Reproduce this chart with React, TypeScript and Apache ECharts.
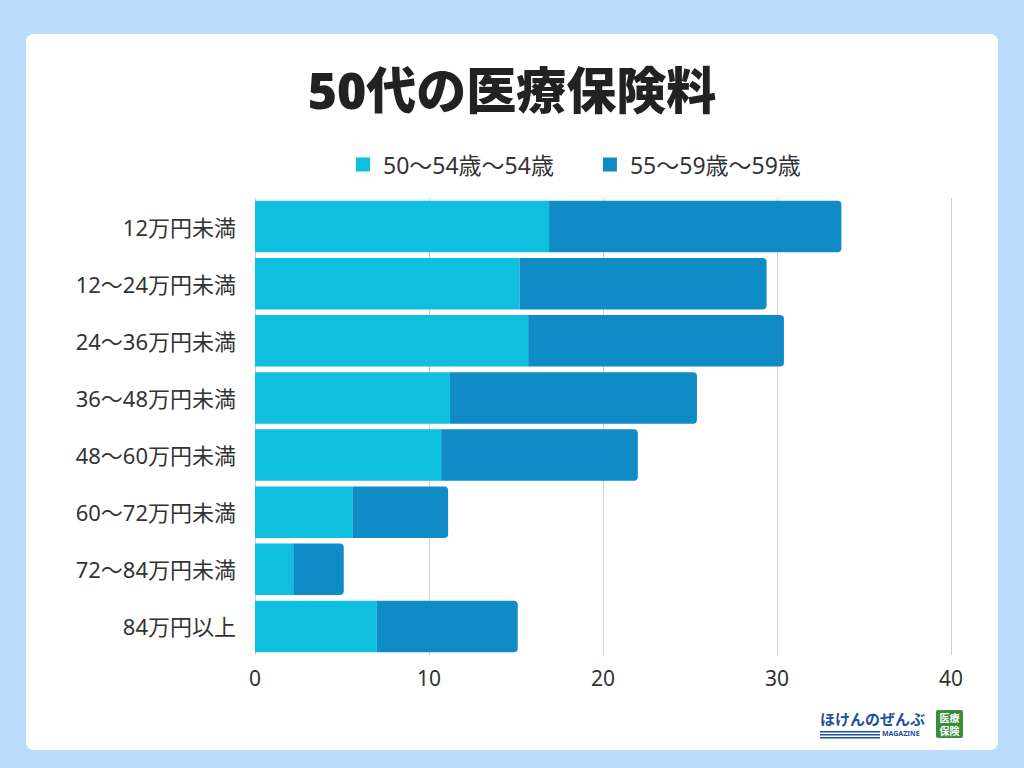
import React, { useEffect, useRef } from "react";
import * as echarts from "echarts";

const categories = [
  "12万円未満",
  "12～24万円未満",
  "24～36万円未満",
  "36～48万円未満",
  "48～60万円未満",
  "60～72万円未満",
  "72～84万円未満",
  "84万円以上",
];
const seriesNames = ["50～54歳～54歳", "55～59歳～59歳"];
const values5054 = [16.9, 15.2, 15.7, 11.2, 10.7, 5.6, 2.2, 7.0];
const values5559 = [16.8, 14.2, 14.7, 14.2, 11.3, 5.5, 2.9, 8.1];
const xTicks = [0, 10, 20, 30, 40];

const FONT = "'Noto Sans', 'Noto Sans CJK JP', sans-serif";

export default function App() {
  const ref = useRef<HTMLDivElement>(null);
  useEffect(() => {
    if (!ref.current) return;
    const chart = echarts.init(ref.current, undefined, { renderer: "svg" });
    chart.setOption({
      animation: false,
      backgroundColor: "#bcdcfc",
      textStyle: { fontFamily: FONT },
      title: {
        text: "50代の医療保険料",
        left: "center",
        top: 60,
        textStyle: { fontSize: 50, fontWeight: 900, color: "#222222", fontFamily: FONT },
      },
      legend: {
        top: 148,
        left: 351,
        itemWidth: 14,
        itemHeight: 14,
        itemGap: 49,
        icon: "rect",
        textStyle: {
          fontSize: 23,
          color: "#333333",
          fontFamily: FONT,
          padding: [0, 0, 0, 8],
        },
        data: seriesNames,
      },
      grid: { left: 255, right: 73, top: 198, bottom: 113, containLabel: false },
      xAxis: {
        type: "value",
        min: 0,
        max: 40,
        interval: 10,
        axisLine: { show: false },
        axisTick: { show: false },
        axisLabel: {
          fontSize: 21,
          color: "#333333",
          margin: 12,
          formatter: (v: number) => (xTicks.includes(v) ? String(v) : ""),
        },
        splitLine: { show: true, lineStyle: { color: "#d0d0d0", width: 1 } },
      },
      yAxis: {
        type: "category",
        inverse: true,
        data: categories,
        axisLine: { show: false },
        axisTick: { show: false },
        axisLabel: { fontSize: 22, color: "#333333", margin: 19 },
      },
      series: [
        {
          name: seriesNames[0],
          type: "bar",
          stack: "total",
          barCategoryGap: "10%",
          data: values5054,
          itemStyle: { color: "#0ebfdf" },
        },
        {
          name: seriesNames[1],
          type: "bar",
          stack: "total",
          barCategoryGap: "10%",
          data: values5559,
          itemStyle: { color: "#0f8bc6", borderRadius: [0, 4, 4, 0] },
        },
      ],
      graphic: [
        {
          type: "rect",
          z: -10,
          silent: true,
          shape: { x: 26, y: 34, width: 972, height: 716, r: 8 },
          style: { fill: "#ffffff" },
        },
        {
          type: "text",
          x: 820,
          y: 711,
          style: {
            text: "ほけんのぜんぶ",
            fill: "#1d4f9f",
            font: "bold 15px 'Noto Sans CJK JP', sans-serif",
          },
        },
        {
          type: "rect",
          shape: { x: 820, y: 731, width: 60, height: 1.5 },
          style: { fill: "#1d4f9f" },
        },
        {
          type: "rect",
          shape: { x: 820, y: 734, width: 60, height: 1.5 },
          style: { fill: "#1d4f9f" },
        },
        {
          type: "rect",
          shape: { x: 820, y: 737, width: 60, height: 1.5 },
          style: { fill: "#1d4f9f" },
        },
        {
          type: "text",
          x: 882,
          y: 730,
          style: {
            text: "MAGAZINE",
            fill: "#1d4f9f",
            font: "bold 7px 'Noto Sans', sans-serif",
          },
        },
        {
          type: "rect",
          shape: { x: 936, y: 710, width: 27, height: 28, r: 2 },
          style: { fill: "#3c8c3c" },
        },
        {
          type: "text",
          x: 949.5,
          y: 712,
          style: {
            text: "医療",
            fill: "#ffffff",
            align: "center",
            font: "bold 10px 'Noto Sans CJK JP', sans-serif",
          },
        },
        {
          type: "text",
          x: 949.5,
          y: 725,
          style: {
            text: "保険",
            fill: "#ffffff",
            align: "center",
            font: "bold 10px 'Noto Sans CJK JP', sans-serif",
          },
        },
      ],
    });
    return () => chart.dispose();
  }, []);
  return (
    <div
      ref={ref}
      style={{ position: "fixed", left: 0, top: 0, width: 1024, height: 768 }}
    />
  );
}
